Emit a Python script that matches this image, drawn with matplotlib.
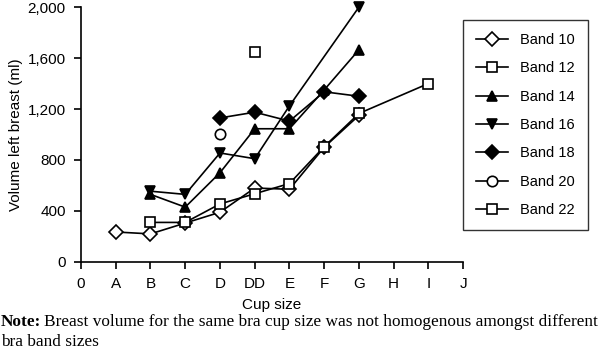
import matplotlib.pyplot as plt
import numpy as np

cup_labels = ['0', 'A', 'B', 'C', 'D', 'DD', 'E', 'F', 'G', 'H', 'I', 'J']

# cup position index -> volume (ml)
band10_x = [1, 2, 3, 4, 5, 6, 7, 8]
band10_y = [235, 220, 305, 390, 580, 570, 900, 1150]
band12_x = [2, 3, 4, 5, 6, 7, 8, 10]
band12_y = [310, 310, 455, 535, 615, 905, 1165, 1400]
band14_x = [2, 3, 4, 5, 6, 7, 8]
band14_y = [530, 430, 700, 1045, 1045, 1350, 1665]
band16_x = [2, 3, 4, 5, 6, 8]
band16_y = [555, 530, 855, 810, 1225, 2000]
band18_x = [4, 5, 6, 7, 8]
band18_y = [1130, 1175, 1105, 1335, 1300]
band20_x = [4]
band20_y = [1000]
band22_x = [5]
band22_y = [1650]

plt.rcParams['font.family'] = ['Liberation Sans', 'DejaVu Sans']

fig = plt.figure(figsize=(6.0, 3.53), dpi=100)
ax = fig.add_axes([0.135, 0.258, 0.637, 0.722])

line_kw = dict(color='black', lw=1.2, markeredgewidth=1.2, clip_on=False)
ax.plot(band10_x, band10_y, marker='D', ms=7, mfc='white', mec='black', label='Band 10', **line_kw)
ax.plot(band12_x, band12_y, marker='s', ms=7.5, mfc='white', mec='black', label='Band 12', **line_kw)
ax.plot(band14_x, band14_y, marker='^', ms=7.5, mfc='black', mec='black', label='Band 14', **line_kw)
ax.plot(band16_x, band16_y, marker='v', ms=7.5, mfc='black', mec='black', label='Band 16', **line_kw)
ax.plot(band18_x, band18_y, marker='D', ms=7, mfc='black', mec='black', label='Band 18', **line_kw)
ax.plot(band20_x, band20_y, marker='o', ms=7.5, mfc='white', mec='black', label='Band 20', **line_kw)
ax.plot(band22_x, band22_y, marker='s', ms=7.5, mfc='white', mec='black', label='Band 22', **line_kw)

ax.set_xlim(0, 11)
ax.set_ylim(0, 2000)
ax.set_xticks(np.arange(len(cup_labels)))
ax.set_xticklabels(cup_labels)
ax.set_yticks(np.arange(0, 2001, 400))
ax.set_yticklabels([f'{v:,}' for v in range(0, 2001, 400)])
ax.tick_params(direction='out', length=5, width=1.2, labelsize=11, colors='black')
ax.tick_params(axis='x', pad=6)
ax.tick_params(axis='y', pad=6)
ax.spines['top'].set_visible(False)
ax.spines['right'].set_visible(False)
ax.spines['left'].set_linewidth(1.2)
ax.spines['bottom'].set_linewidth(1.2)
ax.set_xlabel('Cup size', fontsize=11, labelpad=5)
ax.set_ylabel('Volume left breast (ml)', fontsize=11, labelpad=3)

leg = ax.legend(loc='upper left', borderaxespad=0, frameon=True, fancybox=False,
                edgecolor='black', fontsize=10.5, labelspacing=0.98,
                handlelength=2.2, borderpad=0.9)
leg.set_bbox_to_anchor((1.0, 0.949), transform=ax.transAxes)
leg.get_frame().set_linewidth(1.0)

# note under the chart, bold "Note:" followed by plain serif text
note_size = 12.4
note_bold = fig.text(0.002, 0.088, 'Note:', fontsize=note_size, family='Liberation Serif',
                     weight='bold', va='center')
fig.canvas.draw()
bb = note_bold.get_window_extent()
x_rest = (bb.x1 + 3) / fig.bbox.width
fig.text(x_rest, 0.088, 'Breast volume for the same bra cup size was not homogenous amongst different',
         fontsize=note_size, family='Liberation Serif', va='center')
fig.text(0.002, 0.031, 'bra band sizes', fontsize=note_size, family='Liberation Serif', va='center')

fig.savefig('out.png', dpi=100)
